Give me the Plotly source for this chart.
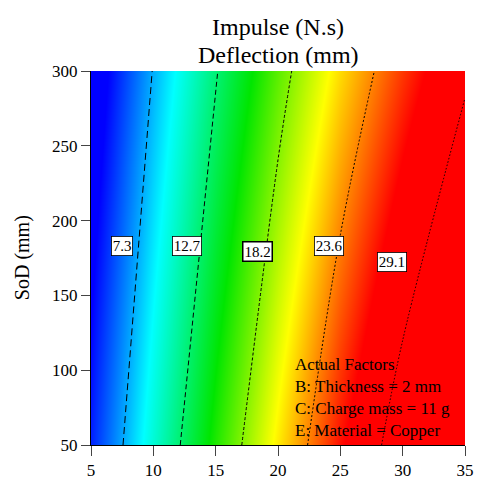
import plotly.graph_objects as go

# Data
x_vals = [5, 10, 15, 20, 25, 30, 35]          # x (unlabelled axis)
y_vals = [50, 300]                             # SoD (mm)
z_rows = [
    [4.25, 10.19, 16.0, 21.25, 26.2, 30.58, 34.9],   # SoD = 50
    [2.0, 7.4, 12.54, 17.25, 21.57, 25.29, 28.65],   # SoD = 300
]
levels = [7.3, 12.7, 18.2, 23.6, 29.1]
label_x = [7.45, 12.74, 18.36, 24.13, 29.14]
label_y = [182.7, 182.7, 179.3, 183.0, 172.3]
x_ticks = [5, 10, 15, 20, 25, 30, 35]
y_ticks = [50, 100, 150, 200, 250, 300]
factors = ["Actual Factors", "B: Thickness = 2 mm", "C: Charge mass = 11 g", "E: Material = Copper"]

FONT = "'Liberation Serif', 'Times New Roman', serif"
zmin, zmax = 2.0, 35.0
def nz(v):
    return (v - zmin) / (zmax - zmin)

cscale = [
    [0.0, "rgb(0,0,255)"],
    [nz(3.5), "rgb(0,0,255)"],
    [nz(9.2), "rgb(0,255,255)"],
    [nz(15.3), "rgb(0,230,0)"],
    [nz(20.8), "rgb(255,255,0)"],
    [nz(26.5), "rgb(255,0,0)"],
    [1.0, "rgb(255,0,0)"],
]

fig = go.Figure()
fig.add_trace(go.Contour(
    x=x_vals, y=y_vals, z=z_rows,
    colorscale=cscale, zmin=zmin, zmax=zmax,
    contours=dict(coloring="heatmap", showlines=False, start=100, end=101, size=1),
    line=dict(width=0),
    showscale=False, hoverinfo="skip",
))

dashes = ["7px,4px", "5px,3px", "3px,2px", "2px,2px", "1.5px,2px"]
for lv, d in zip(levels, dashes):
    fig.add_trace(go.Contour(
        x=x_vals, y=y_vals, z=z_rows,
        contours=dict(coloring="none", start=lv, end=lv, size=1, showlabels=False),
        line=dict(color="black", width=1, dash=d),
        showscale=False, hoverinfo="skip",
    ))

for i, (lv, lx, ly) in enumerate(zip(levels, label_x, label_y)):
    fig.add_annotation(
        x=lx, y=ly, text=f"{lv}", showarrow=False,
        font=dict(family=FONT, size=15, color="black"),
        bgcolor="white", bordercolor="black",
        borderwidth=1.5 if i == 2 else 0.8, borderpad=1,
    )

fig.add_annotation(
    x=0.54, y=0.245, xref="paper", yref="paper", xanchor="left", yanchor="top",
    text="<br>".join(factors), align="left", showarrow=False,
    font=dict(family=FONT, size=17, color="black"),
)

# titles
fig.add_annotation(
    x=0.5, y=1.1176, xref="paper", yref="paper", xanchor="center", yanchor="middle",
    text="Impulse (N.s)", showarrow=False,
    font=dict(family=FONT, size=24, color="black"),
)
fig.add_annotation(
    x=0.5, y=1.044, xref="paper", yref="paper", xanchor="center", yanchor="middle",
    text="Deflection (mm)", showarrow=False,
    font=dict(family=FONT, size=24, color="black"),
)
fig.add_annotation(
    x=-0.184, y=0.5, xref="paper", yref="paper", xanchor="center", yanchor="middle",
    text="SoD (mm)", textangle=-90, showarrow=False,
    font=dict(family=FONT, size=20, color="black"),
)

fig.update_layout(
    width=478, height=480,
    margin=dict(l=91, r=13, t=71, b=35),
    paper_bgcolor="white", plot_bgcolor="white",
    font=dict(family=FONT, size=17, color="black"),
    showlegend=False,
)
fig.update_xaxes(range=[5, 35], tickvals=x_ticks, ticks="outside", ticklen=10,
                 showline=True, linecolor="black", linewidth=1, showgrid=False,
                 zeroline=False, tickfont=dict(size=17), automargin=False)
fig.update_yaxes(range=[50, 300], tickvals=y_ticks, ticks="outside", ticklen=9,
                 showline=True, linecolor="black", linewidth=1, showgrid=False,
                 zeroline=False, tickfont=dict(size=17), automargin=False)

fig.write_html("out.html", config={"displayModeBar": False},
               post_script="document.body.style.margin='0';document.body.style.overflow='hidden';")
